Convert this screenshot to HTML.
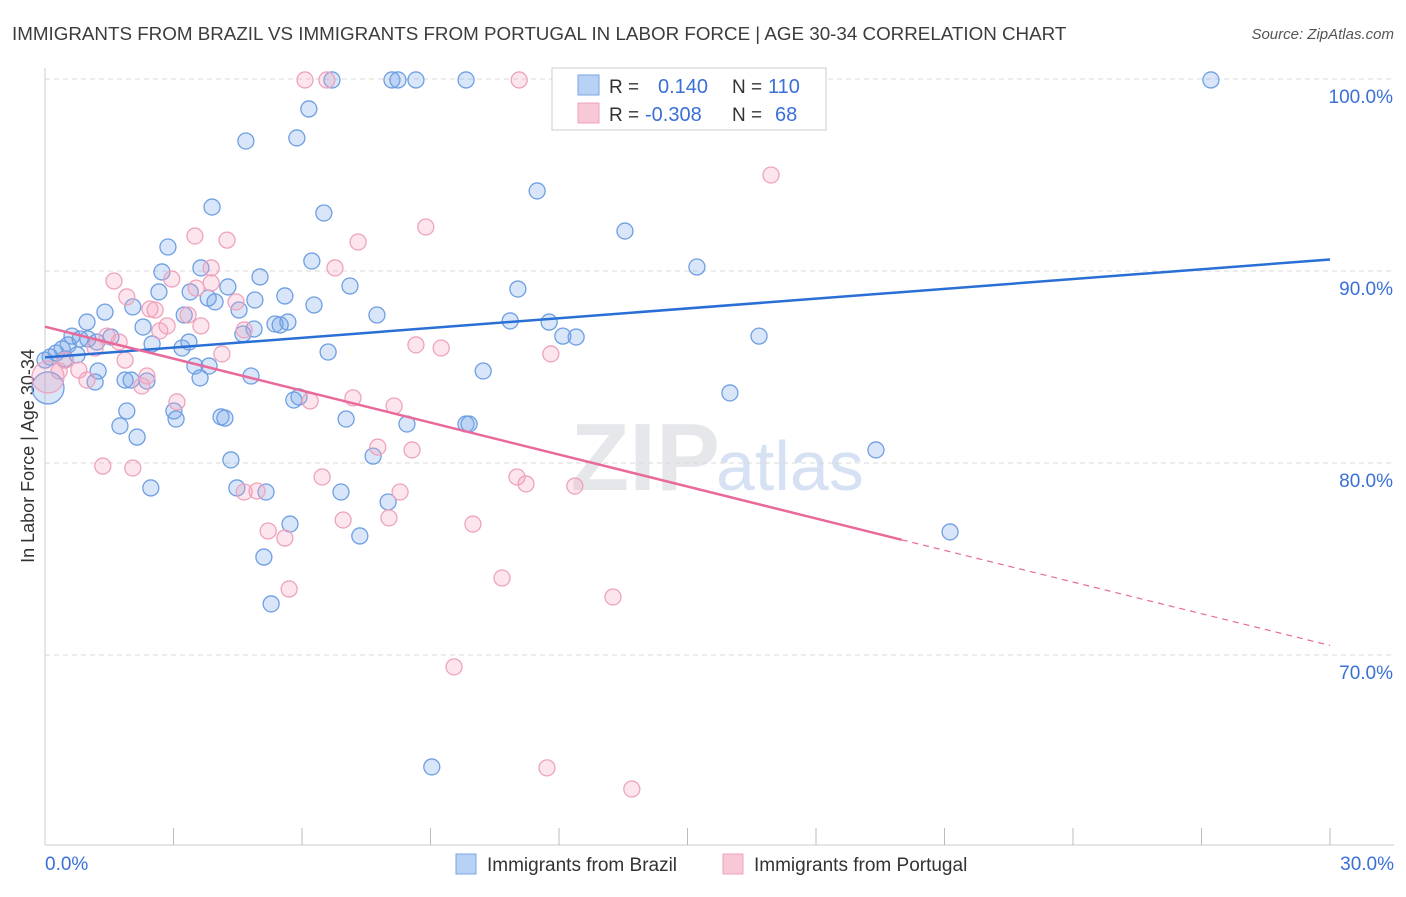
<!DOCTYPE html>
<html><head><meta charset="utf-8"><style>
body{margin:0;background:#fff;font-family:"Liberation Sans",sans-serif;}
svg text{font-family:"Liberation Sans",sans-serif;}
</style></head><body>
<svg id="chart" width="1406" height="892">
<text x="12" y="40" font-size="18.8" fill="#3c3c3c">IMMIGRANTS FROM BRAZIL VS IMMIGRANTS FROM PORTUGAL IN LABOR FORCE | AGE 30-34 CORRELATION CHART</text>
<text x="1394" y="39" font-size="15" font-style="italic" fill="#555" text-anchor="end">Source: ZipAtlas.com</text>
<text x="720" y="490" font-size="96" fill="#e6e7ea" text-anchor="end" font-family="Liberation Serif" font-weight="bold">ZIP</text>
<text x="716" y="490" font-size="70" fill="#d6e2f4">atlas</text>
<text x="34" y="456" font-size="18" fill="#333" text-anchor="middle" transform="rotate(-90 34 456)">In Labor Force | Age 30-34</text>
<g id="grid"></g><g id="pts"></g><g id="lines"></g>
<g>
<rect x="552" y="68" width="274" height="62" fill="#fff" stroke="#ccc"/>
<rect x="578" y="75" width="21" height="20" fill="#b8d2f5" stroke="#7aa6e6"/>
<rect x="578" y="103" width="21" height="20" fill="#f8c8d6" stroke="#f0a0bc"/>
<text x="609" y="93" font-size="19" fill="#333">R =</text>
<text x="658" y="93" font-size="20" fill="#3a6fd8">0.140</text>
<text x="732" y="93" font-size="19" fill="#333">N =</text>
<text x="768" y="93" font-size="20" fill="#3a6fd8">110</text>
<text x="609" y="121" font-size="19" fill="#333">R =</text>
<text x="645" y="121" font-size="20" fill="#3a6fd8">-0.308</text>
<text x="732" y="121" font-size="19" fill="#333">N =</text>
<text x="775" y="121" font-size="20" fill="#3a6fd8">68</text>
</g>
<g>
<rect x="456" y="854" width="20" height="20" fill="#b8d2f5" stroke="#7aa6e6"/>
<text x="487" y="871" font-size="19" fill="#333">Immigrants from Brazil</text>
<rect x="723" y="854" width="20" height="20" fill="#f8c8d6" stroke="#f0a0bc"/>
<text x="754" y="871" font-size="19" fill="#333">Immigrants from Portugal</text>
</g>
</svg>
<script>
const bx=[6.70,8.10,8.24,8.66,9.83,27.22,6.16,4.69,5.88,11.49,3.90,6.51,13.54,2.87,6.23,3.64,15.22,2.73,5.02,4.27,7.12,11.04,2.66,3.39,5.60,3.81,3.97,4.90,6.28,1.40,2.05,4.53,3.25,7.75,0.98,2.29,10.86,11.77,5.67,5.37,5.49,4.88,4.62,0.63,1.00,1.21,0.82,1.54,12.09,12.40,16.67,0.54,2.50,3.20,3.36,6.61,0.40,0.75,0.26,0.12,0.47,0,3.50,3.83,10.23,1.24,1.87,2.38,3.62,4.81,1.17,2.01,15.99,5.93,5.81,1.91,3.01,4.11,4.20,3.06,7.03,8.45,9.83,9.90,1.75,2.15,19.40,4.34,7.66,2.47,4.48,5.16,6.91,8.01,5.72,7.35,21.13,5.11,5.28,9.03];
const by=[99.95,99.95,99.95,99.95,99.95,99.95,98.44,96.77,96.93,94.17,93.33,93.02,92.08,91.25,90.52,90.16,90.21,89.95,89.69,89.17,89.22,89.06,88.91,88.91,88.70,88.59,88.39,88.49,88.23,87.86,88.13,87.97,87.71,87.71,87.34,87.08,87.40,87.34,87.34,87.24,87.19,86.98,86.72,86.61,86.46,86.30,86.46,86.56,86.61,86.56,86.61,86.15,86.20,85.99,86.30,85.78,85.94,85.63,85.73,85.52,85.42,85.36,85.05,85.05,84.79,84.79,84.32,84.27,84.43,84.53,84.22,84.32,83.65,83.44,83.28,82.71,82.71,82.40,82.34,82.29,82.29,82.03,82.03,82.03,81.93,81.35,80.68,80.16,80.36,78.70,78.70,78.49,78.49,77.97,76.82,76.20,76.41,75.10,72.66,64.17];
const px_=[6.07,6.58,11.07,16.95,8.89,3.50,4.25,7.31,6.77,1.61,3.88,2.96,1.91,3.88,2.45,4.46,3.53,2.57,3.34,2.85,3.64,4.65,2.68,1.45,8.66,9.25,1.73,1.17,4.13,11.81,1.87,0.47,0.79,0.33,2.38,0.98,2.26,7.19,6.19,8.15,3.08,7.77,8.57,6.47,11.02,11.23,12.37,1.35,2.05,4.65,4.95,8.29,6.96,8.03,5.21,5.60,9.99,10.67,5.70,13.26,9.55,11.72,13.70];
const py_=[99.95,99.95,99.95,95.0,92.29,91.82,91.61,91.51,90.16,89.48,90.16,89.58,88.65,89.38,88.02,88.39,89.11,87.97,87.71,87.14,87.14,86.93,86.88,86.61,86.15,85.99,86.30,85.99,85.68,85.68,85.36,85.36,84.84,84.79,84.53,84.32,84.01,83.39,83.23,82.97,83.18,80.83,80.68,79.27,79.27,78.91,78.80,79.84,79.74,78.49,78.54,78.49,77.03,77.14,76.46,76.09,76.82,74.01,73.44,73.02,69.38,64.12,63.02];
const bigBlue=[0.07,83.91], bigPink=[0.07,84.48];
const blueTrend=[0,85.5,30,90.6], pinkTrend=[0,87.1,20,76.0,30,70.5];
const yTicks=[100,90,80,70], xTickLabels=["0.0%","30.0%"];
const NS="http://www.w3.org/2000/svg";
const X=v=>45+v/30*1285, Y=v=>79+(100-v)*19.2;
function mk(t,a,p){const e=document.createElementNS(NS,t);for(const k in a)e.setAttribute(k,a[k]);(p||document.getElementById('chart')).appendChild(e);return e;}
const grid=document.getElementById('grid');
yTicks.forEach(v=>{
 const l=mk('line',{x1:45,x2:1394,y1:Y(v),y2:Y(v),stroke:'#d8d8d8','stroke-dasharray':'5,4'},grid);
 
 
 const t=mk('text',{x:1393,y:Y(v)+24,'font-size':19,fill:'#3a6fd8','text-anchor':'end'},grid);t.textContent=v.toFixed(1)+'%';
 
 
});
mk('line',{x1:45,x2:45,y1:68,y2:845,stroke:'#ccc'},grid);
mk('line',{x1:45,x2:1394,y1:845,y2:845,stroke:'#ccc'},grid);
for(let i=1;i<=10;i++){const t=mk('line',{x1:X(i*3),x2:X(i*3),y1:828,y2:845,stroke:'#bbb'},grid);
 
 }
const t0=mk('text',{x:45,y:870,'font-size':19,fill:'#3a6fd8'},grid);t0.textContent=xTickLabels[0];


const t1=mk('text',{x:1394,y:870,'font-size':19,fill:'#3a6fd8','text-anchor':'end'},grid);t1.textContent=xTickLabels[1];


const pts=document.getElementById('pts');
function dot(x,y,r,c){const e=mk('circle',{cx:X(x),cy:Y(y),r:r,fill:c[0],stroke:c[1],'stroke-width':1.3},pts);return e;}
const BC=['rgba(120,165,235,0.28)','#6e9fe2'],PC=['rgba(245,160,190,0.28)','#eea3bd'];
bx.forEach((x,i)=>{const e=dot(x,by[i],8,BC);
 
 });
px_.forEach((x,i)=>{const e=dot(x,py_[i],8,PC);
 
 });
const b1=dot(bigBlue[0],bigBlue[1],16,BC);


const p1=dot(bigPink[0],bigPink[1],16,PC);


const lg=document.getElementById('lines');
const bl=mk('line',{x1:X(blueTrend[0]),y1:Y(blueTrend[1]),x2:X(blueTrend[2]),y2:Y(blueTrend[3]),stroke:'#2a6fd6','stroke-width':2.5},lg);


const pl=mk('line',{x1:X(pinkTrend[0]),y1:Y(pinkTrend[1]),x2:X(pinkTrend[2]),y2:Y(pinkTrend[3]),stroke:'#e8699a','stroke-width':2.5},lg);


const pd=mk('line',{x1:X(pinkTrend[2]),y1:Y(pinkTrend[3]),x2:X(pinkTrend[4]),y2:Y(pinkTrend[5]),stroke:'#e8699a','stroke-width':1.2,'stroke-dasharray':'6,5'},lg);


</script>
</body></html>
